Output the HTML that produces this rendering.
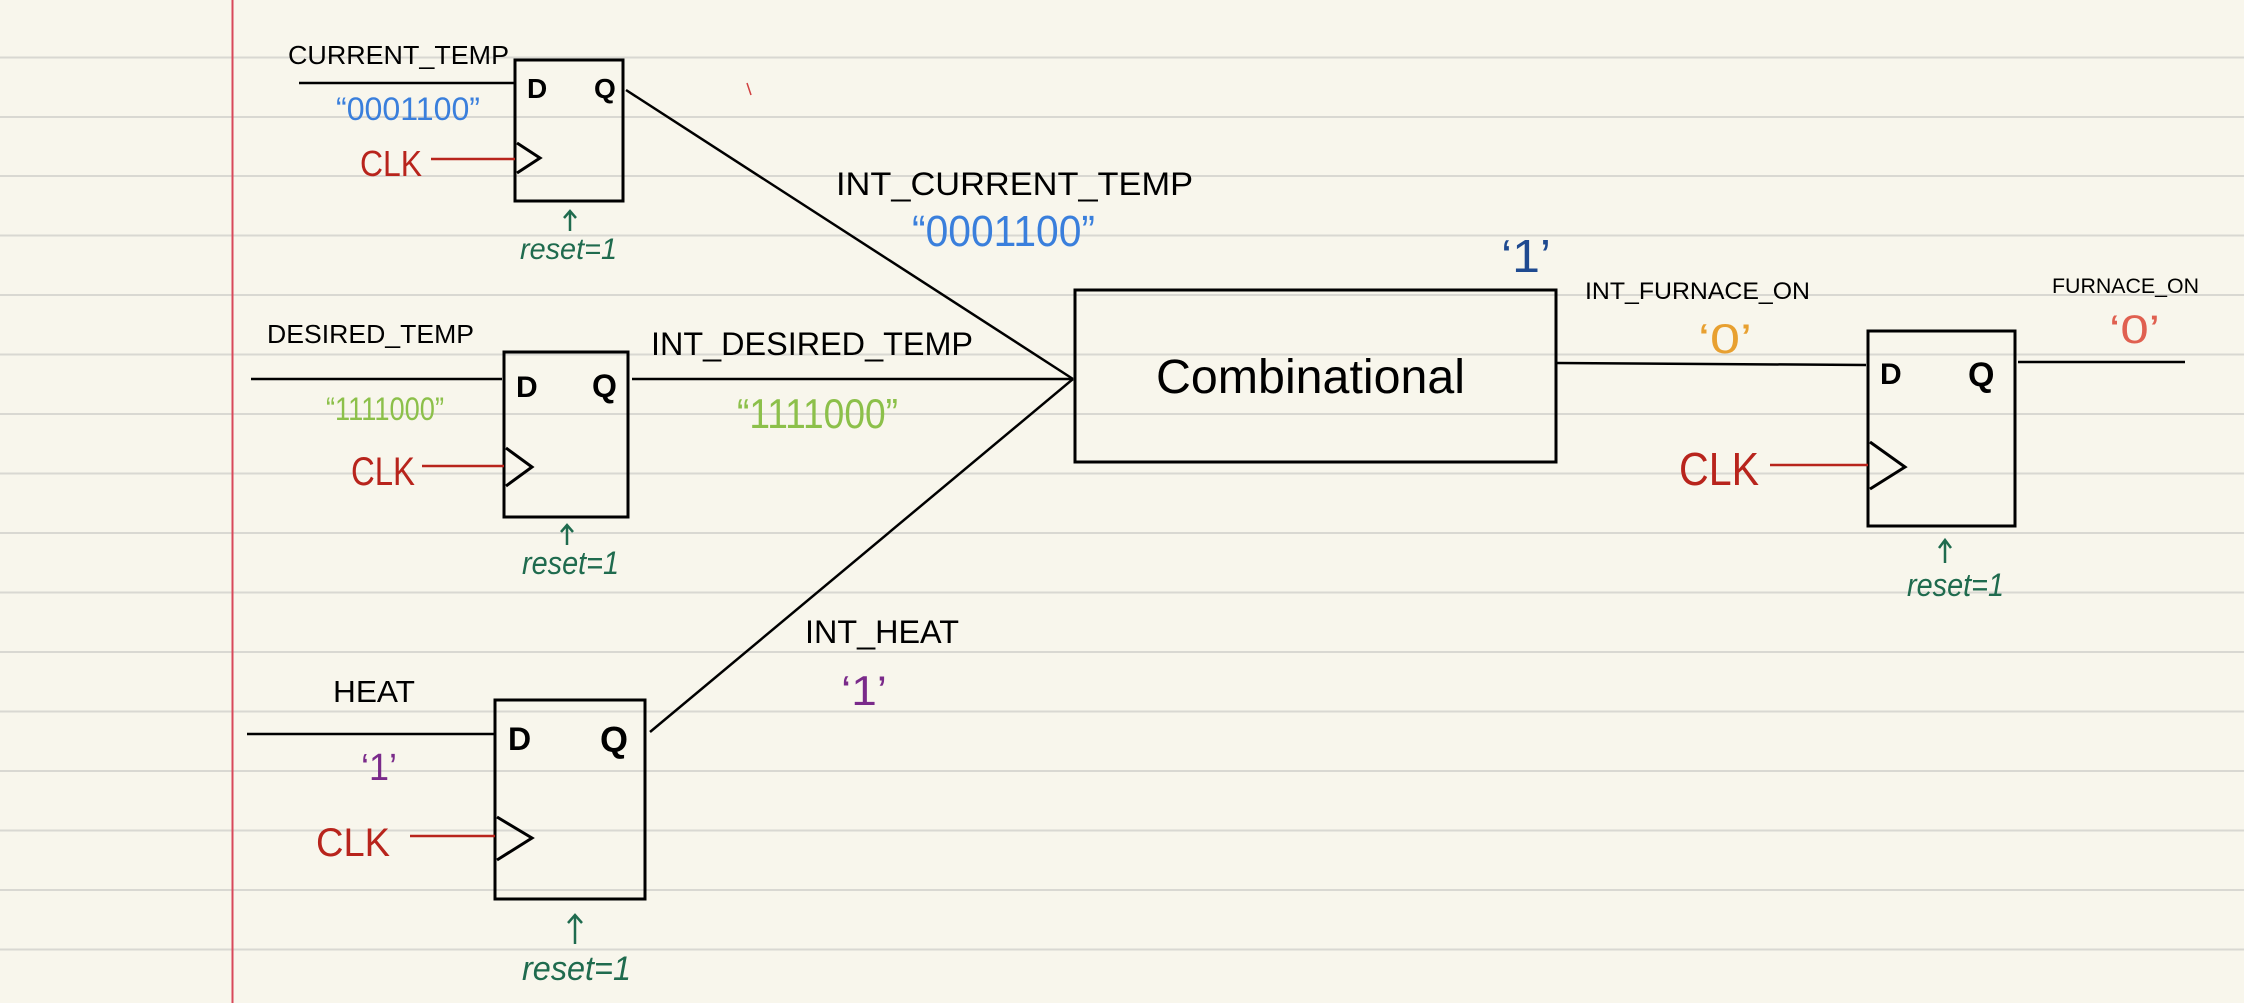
<!DOCTYPE html>
<html><head><meta charset="utf-8"><style>
html,body{margin:0;padding:0;background:#f8f6ec;}
svg{display:block;}
text{font-family:"Liberation Sans",sans-serif;}
</style></head><body>
<svg width="2244" height="1003" viewBox="0 0 2244 1003" xmlns="http://www.w3.org/2000/svg">
<rect width="2244" height="1003" fill="#f8f6ec"/>
<g stroke="#d9d8d2" stroke-width="2">
<line x1="0" y1="57.5" x2="2244" y2="57.5"/><line x1="0" y1="117" x2="2244" y2="117"/>
<line x1="0" y1="176" x2="2244" y2="176"/><line x1="0" y1="235.5" x2="2244" y2="235.5"/>
<line x1="0" y1="295" x2="2244" y2="295"/><line x1="0" y1="354.5" x2="2244" y2="354.5"/>
<line x1="0" y1="414" x2="2244" y2="414"/><line x1="0" y1="473.5" x2="2244" y2="473.5"/>
<line x1="0" y1="533" x2="2244" y2="533"/><line x1="0" y1="592.5" x2="2244" y2="592.5"/>
<line x1="0" y1="652" x2="2244" y2="652"/><line x1="0" y1="711.5" x2="2244" y2="711.5"/>
<line x1="0" y1="771" x2="2244" y2="771"/><line x1="0" y1="830.5" x2="2244" y2="830.5"/>
<line x1="0" y1="890" x2="2244" y2="890"/><line x1="0" y1="949.5" x2="2244" y2="949.5"/>
</g>
<line x1="232.5" y1="0" x2="232.5" y2="1003" stroke="#d8485a" stroke-width="2"/>
<line x1="747" y1="83" x2="751" y2="95" stroke="#d04040" stroke-width="1.5"/>

<g fill="none" stroke="#000" stroke-width="3">
<!-- FF1 -->
<rect x="515" y="60" width="108" height="141"/>
<polyline points="517,143 540,158 517,173"/>
<!-- FF2 -->
<rect x="504" y="352" width="124" height="165"/>
<polyline points="506,448 532,467 506,486"/>
<!-- FF3 -->
<rect x="495" y="700" width="150" height="199"/>
<polyline points="497,817 532,838 497,860"/>
<!-- Comb -->
<rect x="1075" y="290" width="481" height="172"/>
<!-- FF4 -->
<rect x="1868" y="331" width="147" height="195"/>
<polyline points="1870,442 1905,467 1870,489"/>
</g>
<g stroke="#000" stroke-width="2.5" fill="none">
<line x1="299" y1="83" x2="514" y2="83"/>
<line x1="251" y1="379" x2="502" y2="379"/>
<line x1="247" y1="734" x2="494" y2="734"/>
<line x1="626" y1="90" x2="1073" y2="379"/>
<line x1="632" y1="379" x2="1073" y2="379"/>
<line x1="650" y1="732" x2="1073" y2="379"/>
<line x1="1556" y1="363" x2="1866" y2="365"/>
<line x1="2018" y1="362" x2="2185" y2="362"/>
</g>
<g stroke="#b8241c" stroke-width="2.5">
<line x1="431" y1="159" x2="515" y2="159"/>
<line x1="422" y1="466" x2="504" y2="466"/>
<line x1="410" y1="836" x2="495" y2="836"/>
<line x1="1770" y1="465" x2="1868" y2="465"/>
</g>
<g stroke="#1f6b4e" stroke-width="2.5" fill="none">
<line x1="570" y1="212" x2="570" y2="231"/><polyline points="564,218 570,211 576,218"/>
<line x1="567" y1="526" x2="567" y2="545"/><polyline points="561,532 567,525 573,532"/>
<line x1="575" y1="916" x2="575" y2="944"/><polyline points="568,923 575,915 582,923"/>
<line x1="1945" y1="541" x2="1945" y2="563"/><polyline points="1939,548 1945,540 1951,548"/>
</g>

<g font-weight="bold" fill="#000" font-size="28">
<text x="527" y="98">D</text><text x="594" y="98">Q</text>
<text x="516" y="397" font-size="30">D</text><text x="592" y="397" font-size="32">Q</text>
<text x="508" y="750" font-size="32">D</text><text x="600" y="752" font-size="36">Q</text>
<text x="1880" y="384" font-size="30">D</text><text x="1968" y="386" font-size="34">Q</text>
</g>

<g fill="#000">
<text x="288" y="64" font-size="26" textLength="221" lengthAdjust="spacingAndGlyphs">CURRENT_TEMP</text>
<text x="267" y="343" font-size="26" textLength="207" lengthAdjust="spacingAndGlyphs">DESIRED_TEMP</text>
<text x="333" y="702" font-size="31" textLength="82" lengthAdjust="spacingAndGlyphs">HEAT</text>
<text x="836" y="195" font-size="32" textLength="357" lengthAdjust="spacingAndGlyphs">INT_CURRENT_TEMP</text>
<text x="651" y="355" font-size="32" textLength="322" lengthAdjust="spacingAndGlyphs">INT_DESIRED_TEMP</text>
<text x="805" y="643" font-size="32" textLength="154" lengthAdjust="spacingAndGlyphs">INT_HEAT</text>
<text x="1156" y="393" font-size="48" textLength="309" lengthAdjust="spacingAndGlyphs">Combinational</text>
<text x="1585" y="299" font-size="24" textLength="225" lengthAdjust="spacingAndGlyphs">INT_FURNACE_ON</text>
<text x="2052" y="293" font-size="21" textLength="147" lengthAdjust="spacingAndGlyphs">FURNACE_ON</text>
</g>

<g font-family="Liberation Sans, sans-serif">
<text x="336" y="120" font-size="32" fill="#3a7fdc" textLength="144" lengthAdjust="spacingAndGlyphs">“0001100”</text>
<text x="912" y="246" font-size="44" fill="#3a7fdc" textLength="183" lengthAdjust="spacingAndGlyphs">“0001100”</text>
<text x="326" y="420" font-size="32" fill="#8cc04a" textLength="118" lengthAdjust="spacingAndGlyphs">“1111000”</text>
<text x="737" y="428" font-size="42" fill="#8cc04a" textLength="161" lengthAdjust="spacingAndGlyphs">“1111000”</text>
<text x="361" y="780" font-size="38" fill="#7a2a8a" textLength="36" lengthAdjust="spacingAndGlyphs">‘1’</text>
<text x="841" y="705" font-size="42" fill="#7a2a8a" textLength="46" lengthAdjust="spacingAndGlyphs">‘1’</text>
<text x="1501" y="272" font-size="46" fill="#1f4a90" textLength="50" lengthAdjust="spacingAndGlyphs">‘1’</text>
<text x="1698" y="353" font-size="42" fill="#e8a030" textLength="54" lengthAdjust="spacingAndGlyphs">‘0’</text>
<text x="2109" y="343" font-size="40" fill="#e06050" textLength="51" lengthAdjust="spacingAndGlyphs">‘0’</text>
</g>

<g fill="#b8241c">
<text x="360" y="176" font-size="36" textLength="62" lengthAdjust="spacingAndGlyphs">CLK</text>
<text x="351" y="485" font-size="40" textLength="64" lengthAdjust="spacingAndGlyphs">CLK</text>
<text x="316" y="856" font-size="40" textLength="74" lengthAdjust="spacingAndGlyphs">CLK</text>
<text x="1679" y="485" font-size="46" textLength="80" lengthAdjust="spacingAndGlyphs">CLK</text>
</g>
<g fill="#1f6b4e" font-style="italic">
<text x="520" y="259" font-size="30" textLength="97" lengthAdjust="spacingAndGlyphs">reset=1</text>
<text x="522" y="574" font-size="32" textLength="97" lengthAdjust="spacingAndGlyphs">reset=1</text>
<text x="522" y="980" font-size="34" textLength="109" lengthAdjust="spacingAndGlyphs">reset=1</text>
<text x="1907" y="596" font-size="32" textLength="97" lengthAdjust="spacingAndGlyphs">reset=1</text>
</g>
</svg>
</body></html>
